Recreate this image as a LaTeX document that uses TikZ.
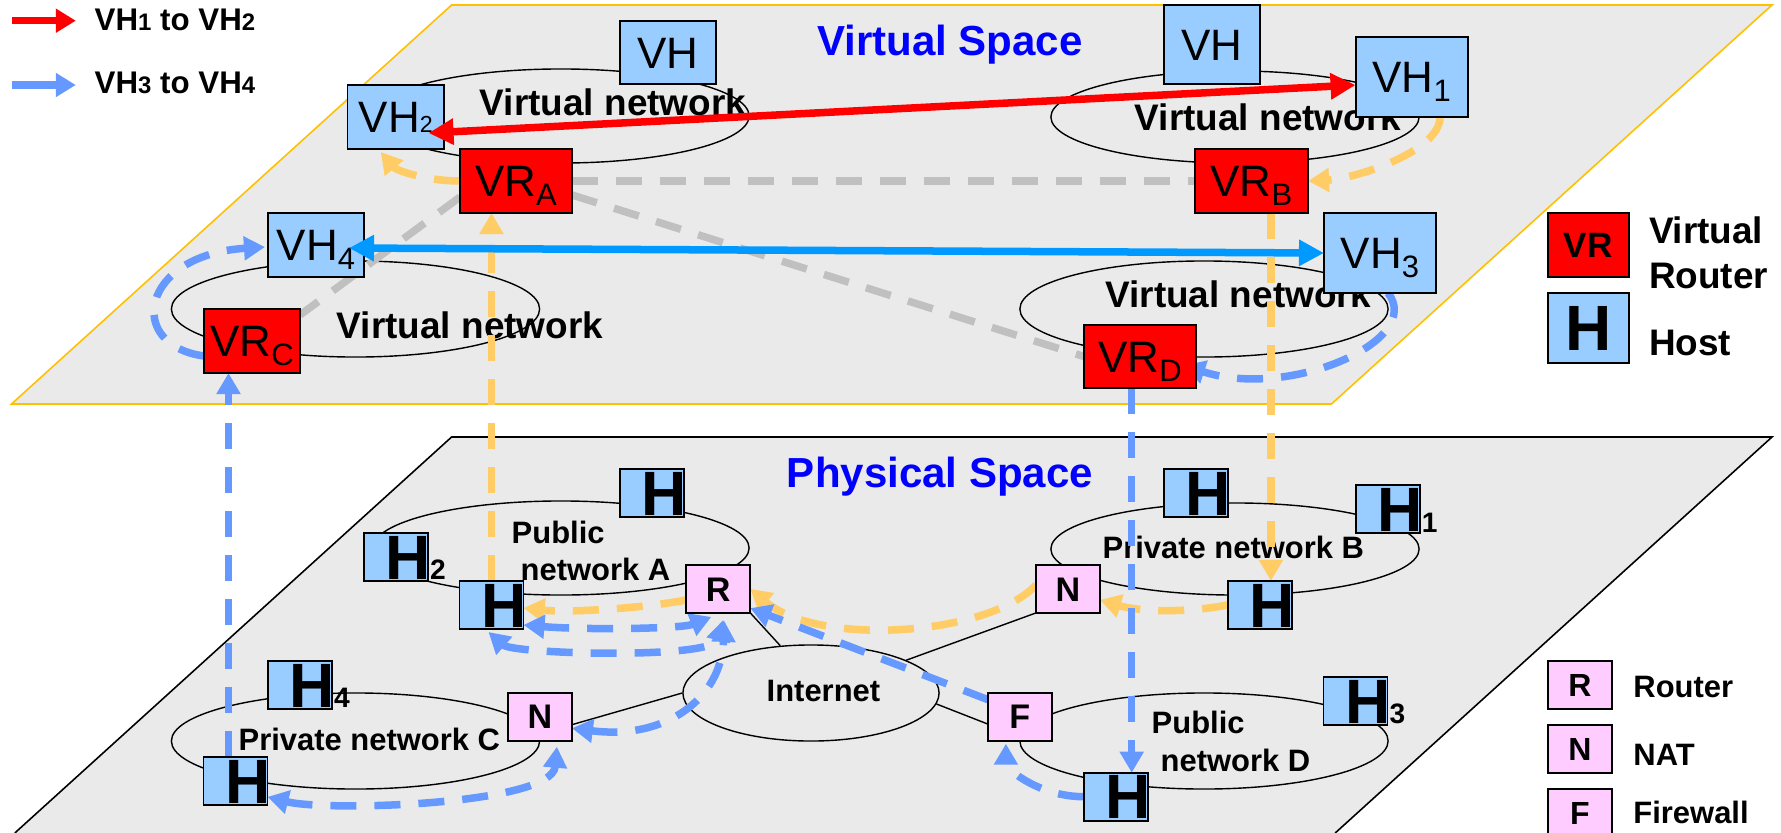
\documentclass[tikz,border=0pt]{standalone}
\usepackage{fontspec}
\setmainfont{Liberation Sans}
\usetikzlibrary{arrows.meta,calc,shapes.geometric}
\definecolor{hostblue}{HTML}{99CCFF}
\definecolor{vrred}{HTML}{FF0000}
\definecolor{devpink}{HTML}{FFCCFF}
\definecolor{planegray}{HTML}{EAEAEA}
\definecolor{planegold}{HTML}{FFC000}
\definecolor{dorange}{HTML}{FFCC66}
\definecolor{dblue}{HTML}{6699FF}
\definecolor{sblue}{HTML}{0099FF}
\definecolor{dgray}{HTML}{C0C0C0}
\definecolor{titleblue}{HTML}{0000FF}
\pgfdeclarelayer{back}
\pgfdeclarelayer{mid}
\pgfsetlayers{back,mid,main}
\newcommand{\vsub}[1]{\raisebox{-0.09cm}{\fontsize{8.8}{8.8}\selectfont #1}}
\newcommand{\vsubb}[1]{{\fontsize{6.6}{6.6}\selectfont #1}}
\newcommand{\lsub}[1]{{\fontsize{6.8}{6.8}\selectfont #1}}
\newcommand{\hglyph}{\makebox[0pt]{\hspace*{0.25cm}H}}
\tikzset{
  bx/.style={draw=black, line width=0.55pt, inner sep=0pt, outer sep=0pt},
  vbox/.style={bx, text height=8.95pt, text depth=0pt, font=\fontsize{12.5}{12.5}\selectfont},
  vh/.style={vbox, fill=hostblue},
  vr/.style={vbox, fill=vrred},
  pbox/.style={bx, minimum width=0.64cm, minimum height=0.48cm},
  phost/.style={pbox, fill=hostblue, text height=12.6pt, text depth=0pt, font=\bfseries\fontsize{17.8}{17.8}\selectfont},
  pdev/.style={pbox, fill=devpink, text height=6.95pt, text depth=0pt, font=\bfseries\fontsize{9.7}{9.7}\selectfont},
  hsub/.style={anchor=base west, inner sep=0pt, font=\bfseries\fontsize{8}{8}\selectfont},
  net/.style={ellipse, draw=black, line width=0.4pt, inner sep=0pt},
  vnetlabel/.style={anchor=base, inner sep=0pt, font=\bfseries\fontsize{10.5}{10.5}\selectfont},
  plabel/.style={anchor=base west, inner sep=0pt, font=\bfseries\fontsize{8.8}{8.8}\selectfont},
  spacetitle/.style={anchor=base, inner sep=0pt, text=titleblue, font=\bfseries\fontsize{11.95}{11.95}\selectfont},
  legtext/.style={anchor=base west, inner sep=0pt, font=\bfseries\fontsize{10.5}{10.5}\selectfont},
  legsmall/.style={anchor=base west, inner sep=0pt, font=\bfseries\fontsize{8.8}{8.8}\selectfont},
  legarrowtext/.style={anchor=base west, inner sep=0pt, font=\bfseries\fontsize{8.9}{8.9}\selectfont},
  plink/.style={draw=black, line width=0.4pt},
  dsh/.style={line width=0.075cm, dash pattern=on 0.26cm off 0.18cm},
  dtip/.style={-{Triangle[length=0.21cm,width=0.23cm]}},
  dtips/.style={{Triangle[length=0.21cm,width=0.23cm]}-{Triangle[length=0.21cm,width=0.23cm]}},
  oarr/.style={dsh, draw=dorange, dtip},
  barr/.style={dsh, draw=dblue, dtip},
  bboth/.style={dsh, draw=dblue, dtips},
  garr/.style={dsh, draw=dgray},
  solidarr/.style={line width=0.075cm, {Triangle[length=0.25cm,width=0.25cm]}-{Triangle[length=0.25cm,width=0.25cm]}},
  legarr/.style={line width=0.075cm, -{Triangle[length=0.2cm,width=0.23cm]}},
}
\begin{document}
\begin{tikzpicture}[x=0.01cm, y=-0.01cm]
\useasboundingbox (0,0) rectangle (1781,833);

% ---------- virtual boxes ----------
\node[vh, minimum width=0.965cm, minimum height=0.64cm] (vh2) at (395.75,117) {VH\vsubb{2}};
\node[vr, minimum width=1.12cm, minimum height=0.64cm] (vra) at (516,181) {VR\vsub{A}};
\node[vh, minimum width=0.96cm, minimum height=0.64cm] (vh4) at (316,245) {VH\vsub{4}};
\node[vr, minimum width=0.96cm, minimum height=0.64cm] (vrc) at (252,341) {VR\vsub{C}};
\node[vh, minimum width=0.96cm, minimum height=0.63cm] (vhtl) at (668,52.5) {VH};
\node[vh, minimum width=0.96cm, minimum height=0.79cm] (vhtr) at (1212,44.5) {VH};
\node[vh, minimum width=1.124cm, minimum height=0.80cm] (vh1) at (1411.8,77) {VH\vsub{1}};
\node[vr, minimum width=1.13cm, minimum height=0.64cm] (vrb) at (1251.5,181) {VR\vsub{B}};
\node[vh, minimum width=1.12cm, minimum height=0.80cm] (vh3) at (1380,253) {VH\vsub{3}};
\node[vr, minimum width=1.12cm, minimum height=0.63cm] (vrd) at (1140,356.5) {VR\vsub{D}};

% ---------- physical boxes ----------
\node[phost] (hat) at (652,493) {\hglyph};
\node[phost] (h2) at (395.8,556.9) {\hglyph};
\node[hsub] (h2s) at ($(h2.south east)+(1.5,-1)$) {2};
\node[phost] (ha) at (491.5,605) {\hglyph};
\node[pdev] (r) at (718.3,588.9) {R};
\node[phost] (h4) at (300,684.9) {\hglyph};
\node[hsub] (h4s) at ($(h4.south east)+(1.5,-1.5)$) {4};
\node[pdev] (nc) at (539.9,716.7) {N};
\node[phost] (hc) at (235.5,780.9) {\hglyph};
\node[phost] (hbt) at (1196,493) {\hglyph};
\node[phost] (h1) at (1387.7,509) {\hglyph};
\node[hsub] (h1s) at ($(h1.south east)+(1.5,-1)$) {1};
\node[pdev] (nb) at (1068,588.9) {N};
\node[phost] (hbb) at (1259.9,604.9) {\hglyph};
\node[pdev] (f) at (1019.9,716.7) {F};
\node[phost] (hd) at (1116,796.7) {\hglyph};
\node[phost] (h3) at (1355.5,700.9) {\hglyph};
\node[hsub] (h3s) at ($(h3.south east)+(1.5,-1)$) {3};

% ---------- legend right ----------
\node[bx, fill=vrred, minimum width=0.81cm, minimum height=0.64cm, text height=7.16pt, text depth=0pt, font=\bfseries\fontsize{10}{10}\selectfont] (lvr) at (1588.1,244.7) {VR};
\node[legtext] (lvrt1) at (1648.3,243.3) {Virtual};
\node[legtext] (lvrt2) at (1648.3,288.3) {Router};
\node[bx, fill=hostblue, minimum width=0.81cm, minimum height=0.706cm, text height=13pt, text depth=0pt, font=\bfseries\fontsize{18.2}{18.2}\selectfont] (lh) at (1588.1,328) {H};
\node[legtext] (lht) at (1648.3,355) {Host};
\node[pdev, font=\bfseries\fontsize{9.1}{9.1}\selectfont, text height=6.5pt] (lr) at (1579.8,684.8) {R};
\node[legsmall] (lrt) at (1632.7,697.3) {Router};
\node[pdev, font=\bfseries\fontsize{9.1}{9.1}\selectfont, text height=6.5pt] (ln) at (1579.8,748.8) {N};
\node[legsmall] (lnt) at (1632.7,765) {NAT};
\node[pdev, font=\bfseries\fontsize{9.1}{9.1}\selectfont, text height=6.5pt] (lf) at (1579.8,813) {F};
\node[legsmall] (lft) at (1632.7,823.3) {Firewall};

% ---------- background: planes, networks, labels, links ----------
\begin{pgfonlayer}{back}
\fill[planegray] (451.6,5) -- (1772,5) -- (1331.5,404) -- (11.5,404) -- cycle;
\draw[planegold, line width=0.45pt] (451.6,5) -- (1772,5) -- (1331.5,404) -- (11.5,404) -- cycle;
\fill[planegray] (451.6,437) -- (1772,437) -- (1335.2,833) -- (14.8,833) -- cycle;
\draw[black, line width=0.45pt] (14.8,833) -- (451.6,437) -- (1772,437) -- (1335.2,833);

\node[net, minimum width=3.76cm, minimum height=0.94cm] (vnet1) at (561,116) {};
\node[net, minimum width=3.68cm, minimum height=0.92cm] (vnet2) at (1235,117) {};
\node[net, minimum width=3.68cm, minimum height=0.96cm] (vnet3) at (355.5,309) {};
\node[net, minimum width=3.68cm, minimum height=0.96cm] (vnet4) at (1204,309) {};
\node[net, minimum width=3.76cm, minimum height=0.94cm] (pneta) at (561,548) {};
\node[net, minimum width=3.68cm, minimum height=0.92cm] (pnetb) at (1235,549) {};
\node[net, minimum width=3.68cm, minimum height=0.96cm] (pnetc) at (355.5,741) {};
\node[net, minimum width=3.68cm, minimum height=0.96cm] (pnetd) at (1204,741) {};
\node[net, minimum width=2.56cm, minimum height=0.96cm] (inet) at (811,693) {};

\node[spacetitle] (vst) at (950,55) {Virtual Space};
\node[spacetitle] (pst) at (940,487) {Physical Space};
\node[vnetlabel] (vl1) at (613,115) {Virtual network};
\node[vnetlabel] (vl2) at (1268,130) {Virtual network};
\node[vnetlabel] (vl3) at (470,338) {Virtual network};
\node[vnetlabel] (vl4) at (1238.5,307) {Virtual network};
\node[plabel] (pla1) at (511,543.3) {Public};
\node[plabel] (pla2) at (520,580) {network A};
\node[plabel] (plb) at (1102,558.3) {Private network B};
\node[plabel] (plc) at (238,750) {Private network C};
\node[plabel] (pld1) at (1151,733.3) {Public};
\node[plabel] (pld2) at (1160,771.7) {network D};
\node[plabel] (pli) at (766,701.7) {Internet};

\draw[plink] (r.south east) -- (inet.123);
\draw[plink] (inet.19) -- (nb.south west);
\draw[plink] (inet.-5) -- (f.193);
\draw[plink] (nc.-14.5) -- (inet.west);
\end{pgfonlayer}

% ---------- dashed paths ----------
\begin{pgfonlayer}{mid}
\draw[garr] (vra.east) -- (vrb.west);
\draw[garr] (vra.-14) -- (vrd.west);
\draw[garr] (vra.196) -- ($(vrc.north east)+(0,6)$);

% VH1 -> VH2 (orange)
\draw[oarr] ($(vh1.south east)+(-28,0)$) .. controls +(0,35) and +(45,-2) .. (vrb.east);
\coordinate (ob) at ($(hbb.north)+(11,0)$);
\draw[oarr] (ob |- vrb.south) -- (ob);
\draw[oarr] (hbb.west) .. controls +(-40,8) and +(40,12) .. ($(nb.east)+(0,11)$);
\draw[oarr] ($(nb.west)+(0,-4)$) .. controls +(-46,50) and +(70,59) .. (r.east);
\draw[oarr] (r.199) .. controls +(-40,8) and +(45,5) .. ($(ha.east)+(0,3)$);
\draw[oarr] (ha.north) -- (ha.north |- vra.south);
\draw[oarr] (vra.west) .. controls +(-35,0) and +(15,18) .. ($(vh2.south)+(-15,3)$);

% VH3 -> VH4 (blue)
\draw[barr] ($(vh3.south)+(8,0)$) .. controls +(37,47) and +(106,34.5) .. ($(vrd.east)+(-12,9)$);
\coordinate (bd) at ($(hd.north)+(15.7,0)$);
\draw[barr] (bd |- vrd.south) -- (bd);
\draw[barr] (hd.west) .. controls +(-45,0) and +(0,25) .. ($(f.south)+(-14,3)$);
\draw[barr] (f.152) -- (r.-31);
\draw[bboth] ($(ha.east)+(0,20)$) .. controls +(60,5) and +(-30,12) .. ($(r.south)+(-7,4)$);
\draw[bboth] ($(ha.south)+(-3,3)$) .. controls +(25,22) and +(-10,40) .. ($(r.south)+(5,7)$);
\draw[bboth] ($(nc.east)+(0,11.5)$) .. controls +(93,12) and +(-3,78) .. ($(r.south)+(6,8)$);
\draw[bboth] ($(hc.east)+(0,16)$) .. controls +(60,15) and +(-5,58) .. ($(nc.south)+(17,6)$);
\coordinate (bc) at ($(hc.north)+(-7,0)$);
\draw[barr] (bc) -- (bc |- vrc.south);
\draw[barr] ($(vrc.west)+(0,15)$) .. controls +(-79,-11) and +(-125,8) .. ($(vh4.west)+(-3,2)$);
\end{pgfonlayer}

% ---------- solid arrows on top ----------
\draw[solidarr, draw=vrred] ($(vh1.west)+(0,8)$) -- ($(vh2.east)+(-15.5,16)$);
\draw[solidarr, draw=sblue] ($(vh4.east)+(-15,3)$) -- (vh3.west);

% ---------- legend left ----------
\coordinate (lra) at (11.5,20.7);
\coordinate (lrb) at (75.8,20.7);
\coordinate (lba) at (11.5,85);
\coordinate (lbb) at (75.8,85);
\draw[legarr, draw=vrred] (lra) -- (lrb);
\draw[legarr, draw=dblue] (lba) -- (lbb);
\node[legarrowtext] (lt1) at (94,30) {VH\lsub{1} to VH\lsub{2}};
\node[legarrowtext] (lt2) at (94,93.3) {VH\lsub{3} to VH\lsub{4}};
\end{tikzpicture}
\end{document}
